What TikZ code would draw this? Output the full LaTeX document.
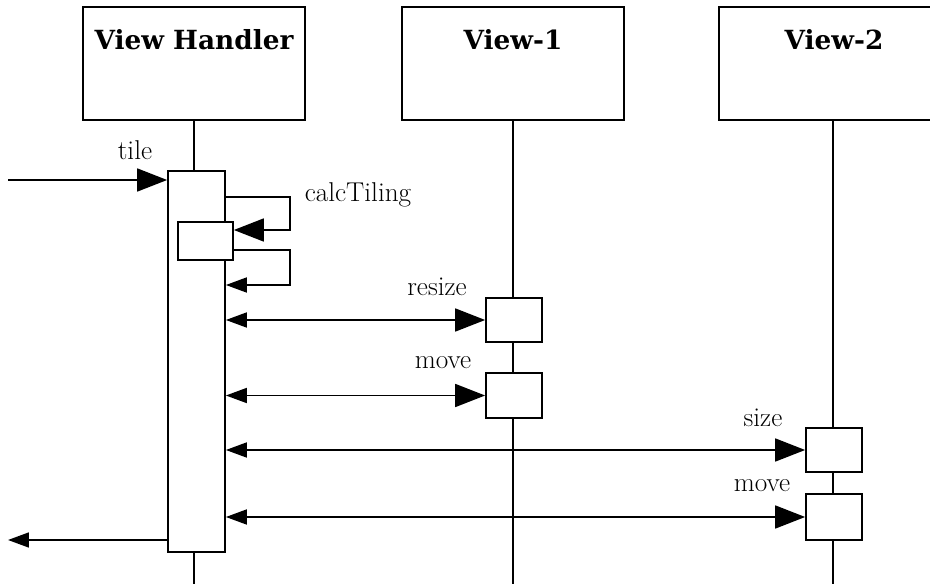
\documentclass[tikz,border=0pt]{standalone}
\usepackage{fontspec}
\newfontfamily\headfont{DejaVu Serif}
\usetikzlibrary{arrows.meta}
\begin{document}
\begin{tikzpicture}[x=0.02cm, y=-0.02cm, line width=1pt,
  every node/.style={font=\fontsize{15.5}{17}\selectfont},
  obj/.style={draw, fill=white, minimum width=4.44cm, inner sep=0.18cm, text height=0.68cm, text depth=1.22cm, font=\headfont\bfseries\fontsize{15}{17}\selectfont},
  act/.style={draw, fill=white, inner sep=0pt},
  big/.style={-{Triangle[length=0.6cm,width=0.46cm]}},
  two/.style={{Triangle[length=0.42cm,width=0.3cm]}-{Triangle[length=0.6cm,width=0.46cm]}},
  back/.style={-{Triangle[length=0.42cm,width=0.3cm]}}]
  \useasboundingbox (0,0) rectangle (930,584);
  \node[obj] (vh) at (194,63.5) {View Handler};
  \node[obj] (v1) at (513,63.5) {View-1};
  \node[obj, minimum width=4.6cm] (v2) at (834,63.5) {View-2};
  \coordinate (e0) at (194,584);
  \coordinate (e1) at (513,584);
  \coordinate (e2) at (833,584);
  \draw[line width=0.8pt] (vh.south) -- (e0) (v1.south) -- (e1) (v2.south -| e2) -- (e2);
  \node[act, minimum width=1.14cm, minimum height=7.62cm] (bar) at (196.5,361.5) {};
  \node[act, minimum width=1.1cm, minimum height=0.76cm] (calc) at (205.5,241) {};
  \node[act, minimum width=1.12cm, minimum height=0.88cm] (rs1) at (514,320) {};
  \node[act, minimum width=1.12cm, minimum height=0.9cm] (mv1) at (514,395.5) {};
  \node[act, minimum width=1.12cm, minimum height=0.88cm] (sz2) at (834,450) {};
  \node[act, minimum width=1.12cm, minimum height=0.92cm] (mv2) at (834,517) {};
  \coordinate (src) at (8,180);
  \coordinate (out) at (8,540);
  \draw[big] (src) -- (src -| bar.west);
  \draw[big] (bar.east |- 0,197) -- (290,197) -- (290,230) -- (calc.east |- 0,230);
  \draw[back] (calc.east |- 0,250) -- (290,250) -- (290,285) -- (bar.east |- 0,285);
  \draw[two] (bar.east |- rs1) -- (rs1.west);
  \draw[two] (bar.east |- mv1) -- (mv1.west);
  \draw[two] (bar.east |- sz2) -- (sz2.west);
  \draw[two] (bar.east |- mv2) -- (mv2.west);
  \draw[back] (out -| bar.west) -- (out);
  \node (tileL) at (135,150) {tile};
  \node (calcL) at (358,195) {calcTiling};
  \node (rsL) at (437,287) {resize};
  \node (mvL1) at (443,363) {move};
  \node (szL) at (763,418) {size};
  \node (mvL2) at (762,486) {move};
\end{tikzpicture}
\end{document}
